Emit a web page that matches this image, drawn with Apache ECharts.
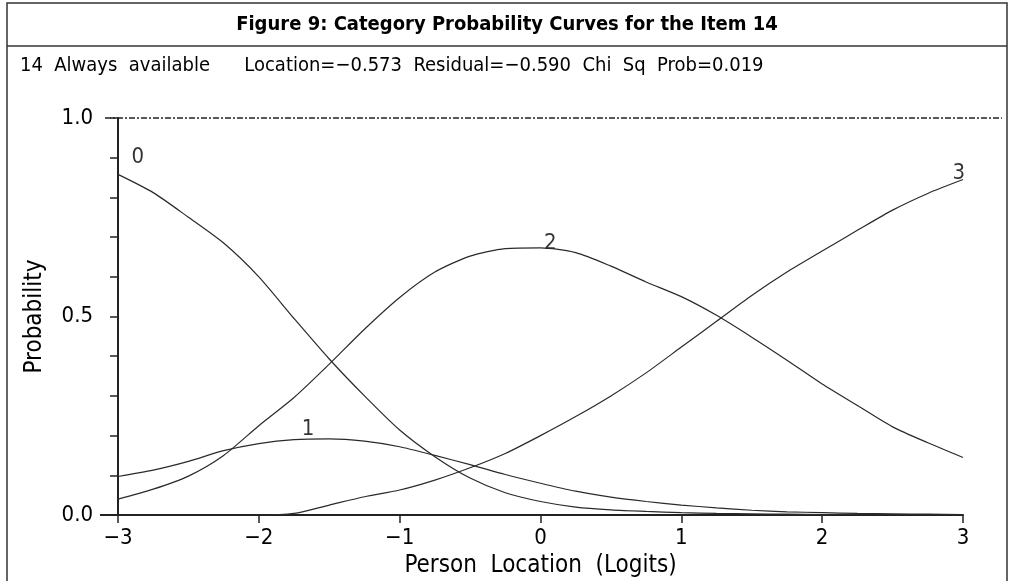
<!DOCTYPE html>
<html>
<head>
<meta charset="utf-8">
<script src="https://cdn.jsdelivr.net/npm/echarts@6/dist/echarts.min.js"></script>
<style>
html,body{margin:0;padding:0;background:#fff;}
#c{width:1014px;height:581px;}
</style>
</head>
<body>
<div id="c"></div>
<script>
// ---- data ----
const logits = [-3, -2.75, -2.5, -2.25, -2, -1.75, -1.5, -1.25, -1, -0.75, -0.5, -0.25, 0, 0.25, 0.5, 0.75, 1, 1.25, 1.5, 1.75, 2, 2.25, 2.5, 2.75, 3];
const cat0 = [0.858, 0.812, 0.750, 0.685, 0.600, 0.495, 0.393, 0.300, 0.214, 0.147, 0.093, 0.056, 0.034, 0.020, 0.013, 0.009, 0.006, 0.004, 0.003, 0.002, 0.001, 0.001, 0.001, 0.000, 0.000];
const cat1 = [0.097, 0.113, 0.135, 0.162, 0.180, 0.190, 0.192, 0.186, 0.172, 0.150, 0.127, 0.102, 0.080, 0.060, 0.045, 0.034, 0.025, 0.018, 0.012, 0.008, 0.006, 0.004, 0.003, 0.002, 0.001];
const cat2 = [0.040, 0.065, 0.098, 0.150, 0.225, 0.296, 0.380, 0.468, 0.548, 0.612, 0.652, 0.671, 0.673, 0.661, 0.627, 0.587, 0.550, 0.503, 0.448, 0.390, 0.330, 0.276, 0.222, 0.182, 0.145];
const cat3 = [0.000, 0.000, 0.000, 0.000, 0.000, 0.004, 0.025, 0.046, 0.063, 0.088, 0.119, 0.155, 0.200, 0.248, 0.300, 0.358, 0.423, 0.488, 0.553, 0.612, 0.665, 0.717, 0.768, 0.810, 0.845];
const curveLabels = [[-2.86, 0.90, '0'], [-1.65, 0.215, '1'], [0.07, 0.685, '2'], [2.97, 0.86, '3']];
const yLabels = {0: '0.0', 0.5: '0.5', 1: '1.0'};
const titleText = 'Figure 9: Category Probability Curves for the Item 14';
const subtitleText = '14  Always  available      Location=\u22120.573  Residual=\u22120.590  Chi  Sq  Prob=0.019';
const xName = 'Person  Location  (Logits)';
const yName = 'Probability';

const FONT = 'DejaVu Sans Condensed';
const LINE = '#2a2a2a';
const pairs = arr => logits.map((x, i) => [x, arr[i]]);
const lineSeries = arr => ({
  type: 'line', data: pairs(arr), showSymbol: false, smooth: 0.25,
  lineStyle: { color: LINE, width: 1.2 }, silent: true, animation: false
});

const chart = echarts.init(document.getElementById('c'), null, { renderer: 'canvas' });
chart.setOption({
  animation: false,
  backgroundColor: '#fff',
  title: [
    { text: titleText, left: 'center', top: 10,
      textStyle: { fontFamily: 'DejaVu Sans Condensed', fontWeight: 'bold', fontSize: 20, color: '#000' } },
    { text: subtitleText, left: 15, top: 51,
      textStyle: { fontFamily: FONT, fontWeight: 'normal', fontSize: 20, color: '#000' } }
  ],
  grid: { left: 118, right: 51, top: 118, bottom: 66, containLabel: false, outerBoundsMode: 'none' },
  xAxis: {
    type: 'value', min: -3, max: 3, interval: 1,
    name: xName, nameLocation: 'middle', nameGap: 36,
    nameTextStyle: { fontFamily: FONT, fontSize: 24, color: '#000' },
    axisLine: { show: true, lineStyle: { color: '#222', width: 2 } },
    axisTick: { show: true, length: 8, lineStyle: { color: '#222', width: 1.5 } },
    axisLabel: { fontFamily: FONT, fontSize: 22, color: '#000', margin: 12,
      formatter: v => (v < 0 ? '\u2212' + Math.abs(v) : String(v)) },
    splitLine: { show: false }
  },
  yAxis: {
    type: 'value', min: 0, max: 1, interval: 0.1,
    name: yName, nameLocation: 'middle', nameGap: 71,
    nameTextStyle: { fontFamily: FONT, fontSize: 24, color: '#000' },
    axisLine: { show: true, onZero: false, lineStyle: { color: '#222', width: 2 } },
    axisTick: { show: true, inside: false, length: 8, lineStyle: { color: '#222', width: 1.5 } },
    axisLabel: { fontFamily: FONT, fontSize: 22, color: '#000', margin: 25,
      formatter: v => { const k = Math.round(v * 10) / 10; return yLabels[k] !== undefined ? yLabels[k] : ''; } },
    splitLine: { show: false }
  },
  series: [
    lineSeries(cat0), lineSeries(cat1), lineSeries(cat2), lineSeries(cat3),
    {
      type: 'scatter', symbolSize: 0, silent: true,
      data: curveLabels.map(d => ({ value: [d[0], d[1]], name: d[2] })),
      label: { show: true, position: 'inside', formatter: p => p.name,
        fontFamily: FONT, fontSize: 22, color: '#000' }
    }
  ]
});

// decorations positioned through the chart's own scales
const p1 = chart.convertToPixel({ gridIndex: 0 }, [-3, 1]);
const p0 = chart.convertToPixel({ gridIndex: 0 }, [-3, 0]);
chart.setOption({
  graphic: [
    { type: 'rect', shape: { x: 7, y: 3, width: 1000, height: 600 }, style: { fill: 'none', stroke: '#333', lineWidth: 1.5 }, silent: true },
    { type: 'line', shape: { x1: 7, y1: 46, x2: 1007, y2: 46 }, style: { stroke: '#333', lineWidth: 1.5 }, silent: true },
    { type: 'line', shape: { x1: p1[0] - 13, y1: p1[1], x2: 1002, y2: p1[1] }, style: { stroke: '#222', lineWidth: 1.5, lineDash: [6, 2, 2, 2] }, silent: true },
    { type: 'line', shape: { x1: p0[0] - 18, y1: p0[1], x2: p0[0], y2: p0[1] }, style: { stroke: '#222', lineWidth: 2 }, silent: true }
  ]
});
</script>
</body>
</html>
